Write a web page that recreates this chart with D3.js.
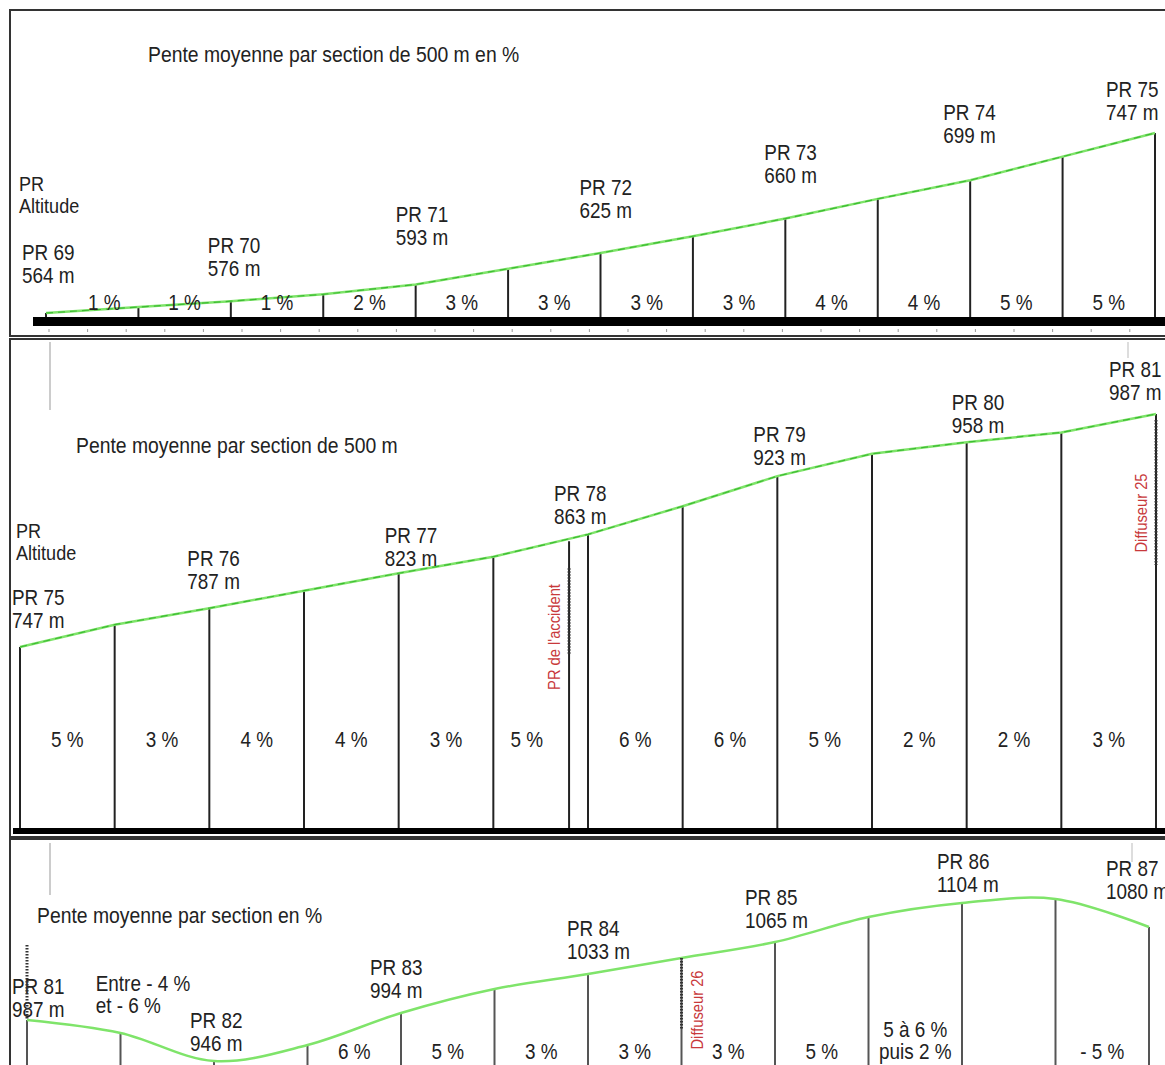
<!DOCTYPE html>
<html>
<head>
<meta charset="utf-8">
<script src="https://cdn.jsdelivr.net/npm/d3@7"></script>
<style>
  body { margin: 0; background: #fff; }
  text { font-family: "Liberation Sans", Arial, sans-serif; fill: #222; }
</style>
</head>
<body>
<div id="vis"></div>
<script>
// profil en long, 3 bandes (PR 69 -> PR 87), un point tous les 500 m

// bande 1 : PR 69 -> PR 75
let p1Alt = [564, 570, 576, 583, 593, 609, 625, 642, 660, 680, 699, 723, 747]
let p1Pct = ["1 %", "1 %", "1 %", "2 %", "3 %", "3 %", "3 %", "3 %", "4 %", "4 %", "5 %", "5 %"]
let p1PR = ["PR 69", "PR 70", "PR 71", "PR 72", "PR 73", "PR 74", "PR 75"]

// bande 2 : PR 75 -> PR 81
let p2Alt = [747, 770, 787, 805, 823, 840, 863, 892, 923, 946, 958, 968, 987]
let p2Pct = ["5 %", "3 %", "4 %", "4 %", "3 %", "5 %", "6 %", "6 %", "5 %", "2 %", "2 %", "3 %"]
let p2PR = ["PR 75", "PR 76", "PR 77", "PR 78", "PR 79", "PR 80", "PR 81"]
let p2Marks = [{ km: 2.9, alt: 856, label: "PR de l'accident" }, { km: 6, alt: 987, label: "Diffuseur 25" }]

// bande 3 : PR 81 -> PR 87
let p3Alt = [987, 974, 946, 962, 994, 1018, 1033, 1049, 1065, 1090, 1104, 1108, 1080]
let p3Pct = ["Entre - 4 %|et - 6 %", "", "", "6 %", "5 %", "3 %", "3 %", "3 %", "5 %", "5 à 6 %|puis 2 %", "", "- 5 %"]
let p3PR = ["PR 81", "PR 82", "PR 83", "PR 84", "PR 85", "PR 86", "PR 87"]
let p3Marks = [{ km: 3.5, alt: 1049, label: "Diffuseur 26" }]

let W = 1165, H = 1065
let SX = 0.86 // police un peu serrée comme dans l'original
let green = "#7fe46a"

let svg = d3.select('#vis')
  .append('svg')
  .attr('width', W)
  .attr('height', H)
  .style('background-color', 'white')

function label(g, x, y, str, opts) {
  opts = opts || {}
  return g.append('text')
    .attr('transform', `translate(${x},${y}) scale(${opts.sx || SX},1)`)
    .attr('text-anchor', opts.anchor || 'start')
    .attr('font-size', opts.size || 22)
    .style('fill', opts.fill || '#222')
    .text(str)
}

function drawPanel(cfg) {
  let g = svg.append('g')
  let x = d3.scaleLinear().domain([0, 6]).range(cfg.xr)
  let y = d3.scaleLinear().domain(cfg.yd).range(cfg.yr)
  let pts = cfg.alt.map((a, i) => ({ km: i * 0.5, alt: a }))

  // cadre
  g.append('rect')
    .attr('x', 10).attr('y', cfg.top)
    .attr('width', W + 20).attr('height', cfg.bottom - cfg.top)
    .attr('fill', 'none').attr('stroke', '#333').attr('stroke-width', 2)

  // titre + légende
  label(g, cfg.titlePos[0], cfg.titlePos[1], cfg.title, { size: 22, sx: 0.88 })
  if (cfg.legend) {
    label(g, cfg.legend[0], cfg.legend[1], 'PR', { size: 21 })
    label(g, cfg.legend[0], cfg.legend[1] + 22, 'Altitude', { size: 21 })
  }

  // barre sol
  if (cfg.bar) {
    g.append('rect')
      .attr('x', cfg.bar[0]).attr('y', cfg.bar[1])
      .attr('width', W - cfg.bar[0]).attr('height', cfg.bar[2])
      .attr('fill', '#000')
  }

  // verticales
  g.selectAll('line.sec').data(pts).join('line')
    .attr('class', 'sec')
    .attr('x1', d => x(d.km)).attr('x2', d => x(d.km))
    .attr('y1', d => y(d.alt)).attr('y2', cfg.lineBottom)
    .attr('stroke', cfg.lineColor).attr('stroke-width', 2)

  // profil
  let line = d3.line().x(d => x(d.km)).y(d => y(d.alt)).curve(cfg.curve || d3.curveLinear)
  g.append('path').datum(pts)
    .attr('d', line).attr('fill', 'none')
    .attr('stroke', green).attr('stroke-width', 2.5)
  if (cfg.dashed) {
    g.append('path').datum(pts)
      .attr('d', line).attr('fill', 'none')
      .attr('stroke', '#3dbb33').attr('stroke-width', 1.2)
      .attr('stroke-dasharray', '7,5')
  }

  // pentes
  cfg.pct.forEach((p, i) => {
    if (!p) return
    let cx = x(i * 0.5 + 0.25) + (cfg.pctNudge[i] || 0)
    let parts = p.split('|')
    let by = cfg.pctYAt[i] || cfg.pctY
    if (parts.length == 1) {
      label(g, cx, by, p, { anchor: 'middle', size: 22 })
    } else {
      parts.forEach((s, k) => label(g, cx, by - 22 * (parts.length - 1 - k), s, { anchor: cfg.pctAnchor[i] || 'middle', size: 22 }))
    }
  })

  // PR + altitude
  cfg.pr.forEach((name, k) => {
    let d = pts[k * 2]
    let n = cfg.prNudge[k]
    let lx = x(d.km) + n[0], ly = y(d.alt) + n[1]
    label(g, lx, ly - 23, name)
    label(g, lx, ly, d.alt + ' m')
  })

  return { g, x, y }
}

// ---- bande 1
let b1 = drawPanel({
  top: 10, bottom: 336,
  xr: [46, 1155], yd: [564, 747], yr: [313, 133],
  alt: p1Alt, pct: p1Pct, pr: p1PR,
  title: 'Pente moyenne par section de 500 m en %', titlePos: [148, 62],
  legend: [19, 191],
  bar: [33, 317, 9], lineBottom: 317, lineColor: '#222',
  dashed: true,
  pctY: 310, pctYAt: {}, pctNudge: { 0: 12 }, pctAnchor: {},
  prNudge: [[-24, -30], [-23, -25], [-20, -39], [-21, -35], [-21, -36], [-27, -37], [-49, -13]]
})
// petits repères sous la barre
b1.g.selectAll('line.tk').data(d3.range(49, 1140, 38.6)).join('line')
  .attr('class', 'tk')
  .attr('x1', d => d).attr('x2', d => d)
  .attr('y1', 329).attr('y2', 332)
  .attr('stroke', '#999').attr('stroke-width', 1)

// ---- bande 2
let b2 = drawPanel({
  top: 339, bottom: 837,
  xr: [20, 1156], yd: [747, 987], yr: [647, 414],
  alt: p2Alt, pct: p2Pct, pr: p2PR,
  title: 'Pente moyenne par section de 500 m', titlePos: [76, 453],
  legend: [16, 538],
  bar: [13, 828, 6], lineBottom: 828, lineColor: '#222',
  dashed: true,
  pctY: 747, pctYAt: {}, pctNudge: { 5: -14 }, pctAnchor: {},
  prNudge: [[-8, -19], [-22, -19], [-14, -7], [-34, -10], [-24, -11], [-15, -9], [-47, -14]]
})

// ---- bande 3
let b3 = drawPanel({
  top: 839, bottom: H + 20,
  xr: [27, 1149], yd: [987, 1104], yr: [1020, 903],
  alt: p3Alt, pct: p3Pct, pr: p3PR,
  title: 'Pente moyenne par section en %', titlePos: [37, 923],
  bar: null, lineBottom: H + 5, lineColor: '#555',
  curve: d3.curveCatmullRom.alpha(0.5),
  pctY: 1059, pctYAt: { 0: 1013 }, pctNudge: { 0: 22 }, pctAnchor: { 0: 'start' },
  prNudge: [[-15, -3], [-24, -10], [-31, -15], [-21, -15], [-30, -14], [-25, -11], [-43, -28]]
})

// traits gris décoratifs (restes de mise en page)
let grey = [[50, 342, 410, '#ccc', 2], [1128, 342, 358, '#bbb', 1], [50, 843, 895, '#ccc', 2], [1132, 843, 862, '#bbb', 1]]
svg.selectAll('line.grey').data(grey).join('line')
  .attr('class', 'grey')
  .attr('x1', d => d[0]).attr('x2', d => d[0])
  .attr('y1', d => d[1]).attr('y2', d => d[2])
  .attr('stroke', d => d[3]).attr('stroke-width', d => d[4])

// repères en rouge
function marker(b, m, dotFrom, dotTo, textDx, textCy, drawLine) {
  let mx = b.x(m.km), my = b.y(m.alt)
  if (drawLine) {
    b.g.append('line')
      .attr('x1', mx).attr('x2', mx).attr('y1', my).attr('y2', 828)
      .attr('stroke', '#222').attr('stroke-width', 2)
  }
  b.g.append('line')
    .attr('x1', mx).attr('x2', mx).attr('y1', my + dotFrom).attr('y2', my + dotTo)
    .attr('stroke', '#333').attr('stroke-width', 3).attr('stroke-dasharray', '1.5,1.5')
  b.g.append('text')
    .attr('transform', `translate(${mx + textDx},${textCy}) rotate(-90) scale(0.92,1)`)
    .attr('text-anchor', 'middle').attr('dominant-baseline', 'central')
    .attr('font-size', 16)
    .style('fill', '#c8393b')
    .text(m.label)
}
marker(b2, p2Marks[0], 27, 114, -15, 637, true)
marker(b2, p2Marks[1], 6, 151, -15, 513, false)
marker(b3, p3Marks[0], 0, 72, 16, 1010, false)
// PR 81 en haut de la bande 3 : trait pointillé
marker(b3, { km: 0, alt: 987, label: '' }, -75, 0, 0, 980, false)
</script>
</body>
</html>
